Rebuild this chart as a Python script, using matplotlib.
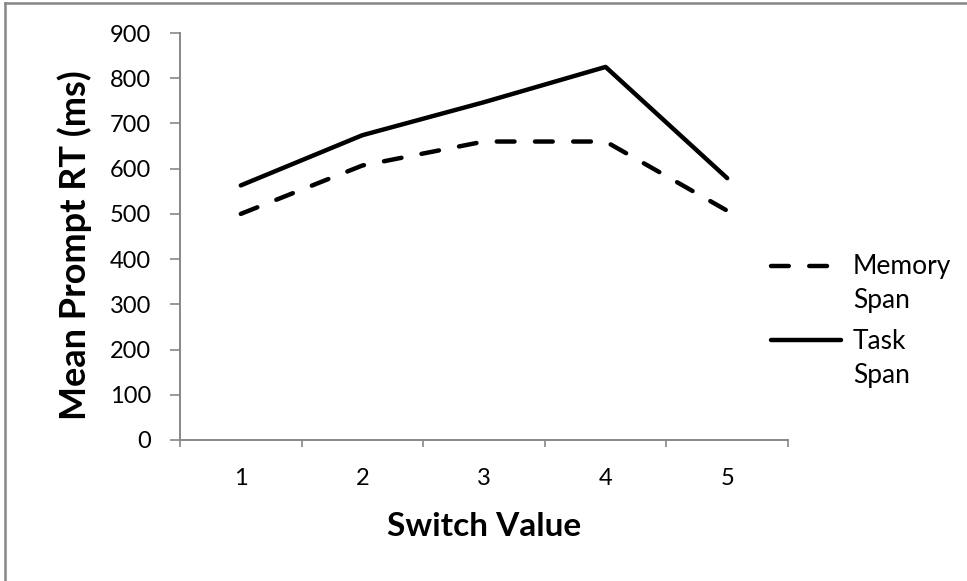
import matplotlib.pyplot as plt
from matplotlib.lines import Line2D

# Data
switch_values = [1, 2, 3, 4, 5]
memory_span = [500, 607, 660, 660, 507]
task_span = [563, 674, 747, 825, 579]
y_ticks = list(range(0, 1000, 100))

plt.rcParams['font.family'] = ['Lato', 'DejaVu Sans']
W, H = 967, 581

fig = plt.figure(figsize=(9.67, 5.81), dpi=100)
ax = fig.add_axes([180 / W, 1 - 440 / H, 608 / W, 407 / H])

ax.plot(switch_values, memory_span, color='black', lw=3.2,
        linestyle=(0, (4, 4.6)), dash_capstyle='round', label='Memory\nSpan')
ax.plot(switch_values, task_span, color='black', lw=3.2,
        solid_capstyle='round', label='Task\nSpan')

ax.set_xlim(0.5, 5.5)
ax.set_ylim(0, 900)
ax.set_yticks(y_ticks)
ax.set_xticks(switch_values)
# category-style ticks between the labels
ax.set_xticks([0.5, 1.5, 2.5, 3.5, 4.5, 5.5], minor=True)
ax.tick_params(axis='x', which='major', length=0, pad=20, labelsize=17)
ax.tick_params(axis='x', which='minor', length=5, width=1.2, color='#878787')
ax.tick_params(axis='y', length=7, width=1.2, color='#878787', labelsize=17, pad=14)

for s in ['top', 'right']:
    ax.spines[s].set_visible(False)
for s in ['left', 'bottom']:
    ax.spines[s].set_color('#878787')
    ax.spines[s].set_linewidth(1.4)

ax.set_xlabel('Switch Value', fontsize=24, fontweight='bold', labelpad=17)
ax.set_ylabel('Mean Prompt RT (ms)', fontsize=26, fontweight='bold')
ax.yaxis.set_label_coords(-0.145, 0.48)

leg = fig.legend(loc='upper left', bbox_to_anchor=(771 / W, 1 - 254 / H), frameon=False,
                 fontsize=19, handlelength=2.65, handletextpad=0.45,
                 labelspacing=0.6, borderpad=0, borderaxespad=0)
for t in leg.get_texts():
    t.set_linespacing(1.45)
# put each handle next to the first line of its label
for h in leg.legend_handles:
    h.set_ydata(h.get_ydata() + 13.5)

# chart-area border (top and left edges visible)
fig.add_artist(Line2D([5 / W, 1], [1 - 3 / H, 1 - 3 / H], transform=fig.transFigure,
                      color='#878787', lw=1.8))
fig.add_artist(Line2D([5 / W, 5 / W], [0, 1 - 3 / H], transform=fig.transFigure,
                      color='#878787', lw=1.8))

fig.savefig('out.png', dpi=100)
